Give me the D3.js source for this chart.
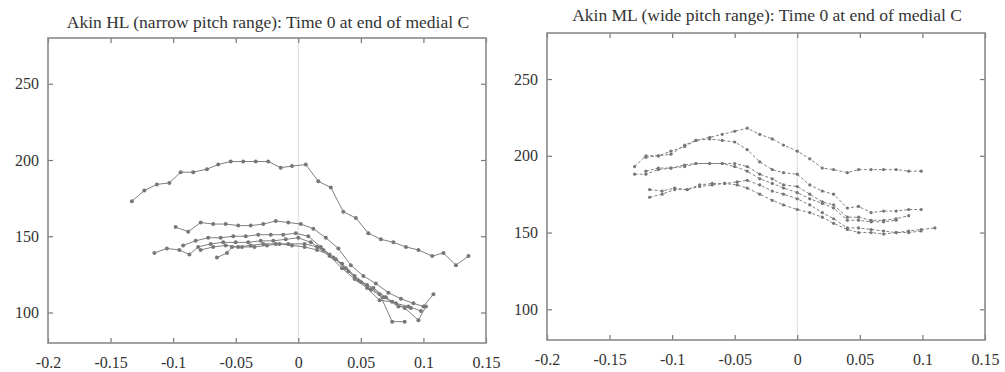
<!DOCTYPE html>
<html><head><meta charset="utf-8">
<script src="https://cdn.jsdelivr.net/npm/d3@7"></script>
<style>body{margin:0;background:#fff}svg{display:block}</style>
</head><body>
<svg id="chart" width="1005" height="372"></svg>
<script>
const xTicks = [-0.2, -0.15, -0.1, -0.05, 0, 0.05, 0.1, 0.15];
const yTicks = [100, 150, 200, 250];
const xDomain = [-0.2, 0.15];
const yDomain = [80, 280];

const titleHL = "Akin HL (narrow pitch range): Time 0 at end of medial C";
const titleML = "Akin ML (wide pitch range): Time 0 at end of medial C";

// Left panel (HL) contours: [time, F0]
const hl1 = [[-0.133,173],[-0.123,180],[-0.113,184],[-0.103,185],[-0.094,192],[-0.084,192],[-0.073,194],[-0.064,197],[-0.054,199],[-0.044,199],[-0.034,199],[-0.024,199],[-0.014,195],[-0.005,196],[0.006,197],[0.016,186],[0.026,182],[0.036,166],[0.046,162],[0.056,152],[0.066,148],[0.076,146],[0.086,143],[0.096,141],[0.107,137],[0.116,139],[0.126,131],[0.136,137]];
const hl2 = [[-0.098,156],[-0.088,153],[-0.078,159],[-0.068,158],[-0.058,158],[-0.048,157],[-0.038,157],[-0.028,158],[-0.018,160],[-0.008,159],[0.002,158],[0.012,155],[0.022,149],[0.032,142],[0.042,131],[0.052,124],[0.062,119],[0.072,113],[0.082,109],[0.092,106],[0.100,104],[0.108,112]];
const hl3 = [[-0.092,144],[-0.082,147],[-0.072,149],[-0.062,149],[-0.052,150],[-0.042,150],[-0.032,151],[-0.022,151],[-0.012,151],[-0.002,152],[0.008,150],[0.018,143],[0.028,136],[0.038,129],[0.048,121],[0.058,115],[0.068,110],[0.078,106],[0.088,104],[0.098,101]];
const hl4 = [[-0.115,139],[-0.105,142],[-0.095,141],[-0.087,138],[-0.080,143],[-0.070,145],[-0.060,146],[-0.050,146],[-0.040,146],[-0.030,147],[-0.020,147],[-0.010,148],[0.000,149],[0.010,146],[0.020,141],[0.030,135],[0.040,127],[0.050,120],[0.060,116],[0.070,110],[0.080,104],[0.090,103]];
const hl5 = [[-0.065,136],[-0.057,139],[-0.053,143],[-0.045,143],[-0.035,143],[-0.025,144],[-0.015,145],[-0.005,144],[0.005,143],[0.015,141],[0.025,138],[0.035,132],[0.045,124],[0.055,118],[0.065,112],[0.075,94],[0.085,94]];
const hl6 = [[-0.078,141],[-0.068,143],[-0.058,144],[-0.048,143],[-0.038,144],[-0.028,145],[-0.018,145],[-0.008,145],[0.005,145],[0.015,143],[0.025,137],[0.035,129],[0.045,122],[0.055,116],[0.065,108],[0.075,107],[0.085,103],[0.096,95],[0.102,104]];

// Right panel (ML) contours
const ml1 = [[-0.130,193],[-0.121,200],[-0.111,200],[-0.101,201],[-0.090,207],[-0.081,210],[-0.070,212],[-0.060,214],[-0.050,216],[-0.040,218],[-0.030,214],[-0.020,211],[-0.011,207],[0.000,203],[0.010,198],[0.020,192],[0.029,191],[0.040,189],[0.049,191],[0.059,191],[0.069,191],[0.079,191],[0.089,190],[0.099,190]];
const ml2 = [[-0.121,199],[-0.111,200],[-0.101,203],[-0.090,206],[-0.081,210],[-0.070,211],[-0.060,210],[-0.050,209],[-0.040,204],[-0.030,196],[-0.020,191],[-0.011,189],[0.000,188],[0.010,181],[0.020,177],[0.029,175],[0.040,166],[0.049,167],[0.059,163],[0.069,164],[0.079,164],[0.089,165],[0.099,165]];
const ml3 = [[-0.130,188],[-0.121,188],[-0.111,191],[-0.101,192],[-0.090,193],[-0.081,195],[-0.070,195],[-0.060,195],[-0.050,195],[-0.040,193],[-0.030,188],[-0.020,185],[-0.011,181],[0.000,180],[0.010,175],[0.020,170],[0.029,168],[0.040,160],[0.049,160],[0.059,158],[0.069,158],[0.079,159],[0.089,161]];
const ml4 = [[-0.121,190],[-0.111,192],[-0.101,192],[-0.090,194],[-0.081,195],[-0.070,195],[-0.060,195],[-0.050,193],[-0.040,190],[-0.030,185],[-0.020,182],[-0.011,179],[0.000,176],[0.010,172],[0.020,169],[0.029,166],[0.040,158],[0.049,158],[0.059,157],[0.069,157],[0.079,158]];
const ml5 = [[-0.118,178],[-0.108,177],[-0.098,179],[-0.088,178],[-0.078,181],[-0.068,182],[-0.058,182],[-0.048,183],[-0.040,184],[-0.030,181],[-0.020,177],[-0.011,175],[0.000,172],[0.010,168],[0.020,163],[0.029,159],[0.040,153],[0.049,153],[0.059,152],[0.069,151],[0.079,150],[0.089,151],[0.099,152],[0.110,153]];
const ml6 = [[-0.118,173],[-0.108,175],[-0.098,178],[-0.088,178],[-0.078,180],[-0.068,181],[-0.058,182],[-0.048,181],[-0.040,179],[-0.030,175],[-0.020,171],[-0.011,168],[0.000,165],[0.010,163],[0.020,160],[0.029,156],[0.040,152],[0.049,150],[0.059,150],[0.069,149],[0.079,150],[0.089,150],[0.099,151]];

const svg = d3.select("#chart");
const FONT = "'Liberation Serif','Times New Roman','DejaVu Serif',serif";
const fmt = d => String(d);

function panel(cfg) {
  const {left, right, top, bottom, title, titleX, titleY, series, dashed} = cfg;
  const x = d3.scaleLinear().domain(xDomain).range([left, right]);
  const y = d3.scaleLinear().domain(yDomain).range([bottom, top]);
  const g = svg.append("g");

  // zero line
  g.append("line").attr("x1", x(0)).attr("x2", x(0)).attr("y1", top).attr("y2", bottom)
    .attr("stroke", "#dcdcdc").attr("stroke-width", 1);

  g.append("g").attr("transform", `translate(0,${bottom})`)
    .call(d3.axisBottom(x).tickValues(xTicks).tickSize(-5).tickPadding(14).tickFormat(fmt));
  g.append("g").attr("transform", `translate(0,${top})`)
    .call(d3.axisTop(x).tickValues(xTicks).tickSize(-5).tickFormat(""));
  g.append("g").attr("transform", `translate(${left},0)`)
    .call(d3.axisLeft(y).tickValues(yTicks).tickSize(-5).tickPadding(9).tickFormat(fmt));
  g.append("g").attr("transform", `translate(${right},0)`)
    .call(d3.axisRight(y).tickValues(yTicks).tickSize(-5).tickFormat(""));
  g.selectAll(".domain").remove();
  g.selectAll(".tick line").attr("stroke", "#777").attr("stroke-width", 1.2);
  g.selectAll(".tick text").attr("fill", "#333").style("font-family", FONT).style("font-size", "16px");

  // frame
  g.append("rect").attr("x", left).attr("y", top).attr("width", right - left).attr("height", bottom - top)
    .attr("fill", "none").attr("stroke", "#8a8a8a").attr("stroke-width", 1.6);

  const line = d3.line().x(d => x(d[0])).y(d => y(d[1]));
  series.forEach(s => {
    g.append("path").datum(s).attr("d", line).attr("fill", "none")
      .attr("stroke", "#808080").attr("stroke-width", 1)
      .attr("stroke-dasharray", dashed ? "3,2" : null);
    g.selectAll(null).data(s).enter().append("circle")
      .attr("cx", d => x(d[0])).attr("cy", d => y(d[1])).attr("r", dashed ? 1.6 : 2)
      .attr("fill", "#777").attr("stroke", "none");
  });

  g.append("text").attr("x", titleX).attr("y", titleY).attr("text-anchor", "middle")
    .attr("fill", "#333").style("font-family", FONT).style("font-size", "17.5px").text(title);
}

panel({left: 48, right: 486, top: 38, bottom: 343, title: titleHL, titleX: 268, titleY: 28,
  series: [hl1, hl2, hl3, hl4, hl5, hl6], dashed: false});
panel({left: 547, right: 985, top: 33, bottom: 340, title: titleML, titleX: 767, titleY: 21,
  series: [ml1, ml2, ml3, ml4, ml5, ml6], dashed: true});
</script>
</body></html>
